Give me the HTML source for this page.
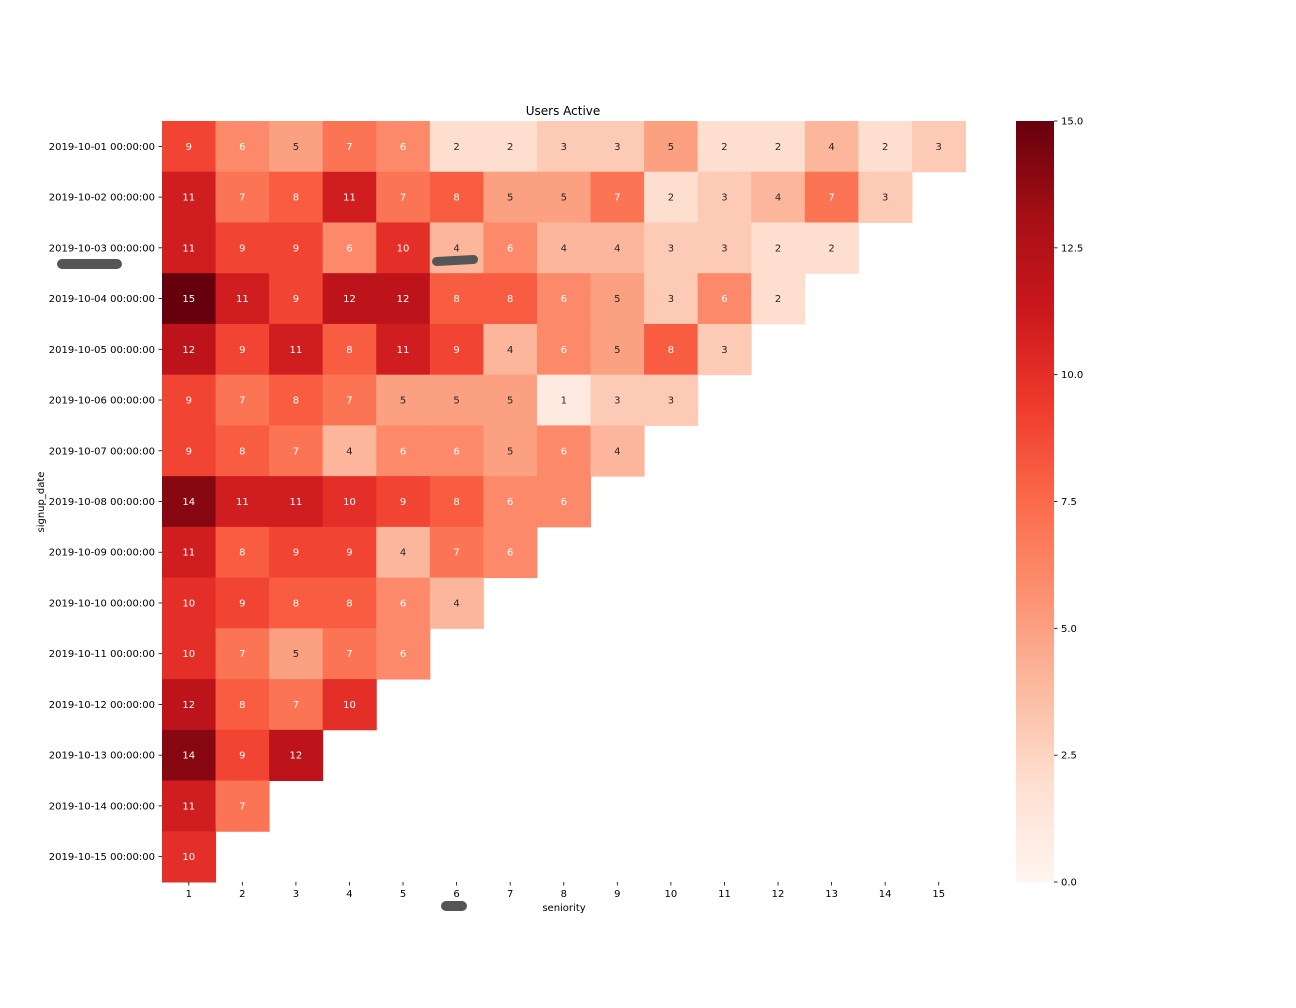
<!DOCTYPE html>
<html><head><meta charset="utf-8"><style>
body{margin:0;background:#fff;}
svg{display:block;font-family:"DejaVu Sans","Liberation Sans",sans-serif;}
</style></head><body>
<svg id="chart" width="1296" height="1008" viewBox="0 0 1296 1008">
<defs><linearGradient id="cbgrad" x1="0" y1="1" x2="0" y2="0">
<stop offset="0" stop-color="#fff5f0"/><stop offset="0.125" stop-color="#fee0d2"/><stop offset="0.25" stop-color="#fcbba1"/><stop offset="0.375" stop-color="#fc9272"/><stop offset="0.5" stop-color="#fb6a4a"/><stop offset="0.625" stop-color="#ef3b2c"/><stop offset="0.75" stop-color="#cb181d"/><stop offset="0.875" stop-color="#a50f15"/><stop offset="1" stop-color="#67000d"/>
</linearGradient></defs>
<g id="cells"></g>
<g id="axes"></g>
<text x="563" y="115" text-anchor="middle" font-size="12">Users Active</text>
<text x="564" y="911" text-anchor="middle" font-size="10">seniority</text>
<text x="0" y="0" transform="translate(44,502) rotate(-90)" text-anchor="middle" font-size="10">signup_date</text>
<rect x="1016" y="121" width="38" height="761" fill="url(#cbgrad)"/>
<g id="cbticks"></g>
<rect x="57" y="259" width="65" height="10" rx="5" fill="#555"/>
<rect x="432" y="256" width="46" height="9" rx="4.5" fill="#555" transform="rotate(-3 455 260)"/>
<rect x="441" y="901" width="26" height="10" rx="5" fill="#555"/>
</svg>
<script>
const rowLabels = ["2019-10-01 00:00:00","2019-10-02 00:00:00","2019-10-03 00:00:00","2019-10-04 00:00:00","2019-10-05 00:00:00","2019-10-06 00:00:00","2019-10-07 00:00:00","2019-10-08 00:00:00","2019-10-09 00:00:00","2019-10-10 00:00:00","2019-10-11 00:00:00","2019-10-12 00:00:00","2019-10-13 00:00:00","2019-10-14 00:00:00","2019-10-15 00:00:00"];
const colLabels = [1,2,3,4,5,6,7,8,9,10,11,12,13,14,15];
const values = [
[9,6,5,7,6,2,2,3,3,5,2,2,4,2,3],
[11,7,8,11,7,8,5,5,7,2,3,4,7,3],
[11,9,9,6,10,4,6,4,4,3,3,2,2],
[15,11,9,12,12,8,8,6,5,3,6,2],
[12,9,11,8,11,9,4,6,5,8,3],
[9,7,8,7,5,5,5,1,3,3],
[9,8,7,4,6,6,5,6,4],
[14,11,11,10,9,8,6,6],
[11,8,9,9,4,7,6],
[10,9,8,8,6,4],
[10,7,5,7,6],
[12,8,7,10],
[14,9,12],
[11,7],
[10]
];
const cbTicks = [0,2.5,5,7.5,10,12.5,15];
const cbTickLabels = ["0.0","2.5","5.0","7.5","10.0","12.5","15.0"];
const vmin=0, vmax=15;
const X0=162, Y0=121, CW=803.5/15, RH=761/15;
const xPos = i => X0 + i*CW;
const yPos = j => Y0 + j*RH;
const stops=["#fff5f0","#fee0d2","#fcbba1","#fc9272","#fb6a4a","#ef3b2c","#cb181d","#a50f15","#67000d"].map(h=>[1,3,5].map(k=>parseInt(h.substr(k,2),16)));
function color(v){let t=(v-vmin)/(vmax-vmin)*8;let i=Math.min(7,Math.floor(t));let f=t-i;const a=stops[i],b=stops[i+1];return `rgb(${a.map((c,k)=>Math.round(c+(b[k]-c)*f)).join(',')})`;}
const NS="http://www.w3.org/2000/svg";
function mk(tag,attrs,parent){const e=document.createElementNS(NS,tag);for(const k in attrs)e.setAttribute(k,attrs[k]);parent.appendChild(e);return e;}
const cells=document.getElementById('cells'), axes=document.getElementById('axes'), cbt=document.getElementById('cbticks');
values.forEach((row,j)=>{row.forEach((v,i)=>{
 const r=mk('rect',{x:xPos(i),y:yPos(j),width:CW+0.5,height:RH+0.5,fill:color(v)},cells);
 
 
 const t=mk('text',{x:xPos(i)+CW/2,y:yPos(j)+RH/2+3.5,'text-anchor':'middle','font-size':10,fill:v>=6?'#fff':'#262626'},cells);
 t.textContent=v;
 
 
});});
rowLabels.forEach((l,j)=>{
 const y=yPos(j)+RH/2;
 mk('line',{x1:X0-3.5,x2:X0,y1:y,y2:y,stroke:'#000','stroke-width':0.8},axes);
 const t=mk('text',{x:X0-7,y:y+3.5,'text-anchor':'end','font-size':10},axes);
 t.textContent=l;
 
 
});
colLabels.forEach((l,i)=>{
 const x=xPos(i)+CW/2, yb=Y0+761;
 mk('line',{x1:x,x2:x,y1:yb,y2:yb+3.5,stroke:'#000','stroke-width':0.8},axes);
 const t=mk('text',{x:x,y:yb+15,'text-anchor':'middle','font-size':10},axes);
 t.textContent=l;
 
 
});
cbTicks.forEach((v,k)=>{
 const y=882-(v-vmin)/(vmax-vmin)*761;
 mk('line',{x1:1054,x2:1057.5,y1:y,y2:y,stroke:'#000','stroke-width':0.8},cbt);
 const t=mk('text',{x:1061,y:y+3.5,'font-size':10},cbt);
 t.textContent=cbTickLabels[k];
 
 
});
</script>
</body></html>
